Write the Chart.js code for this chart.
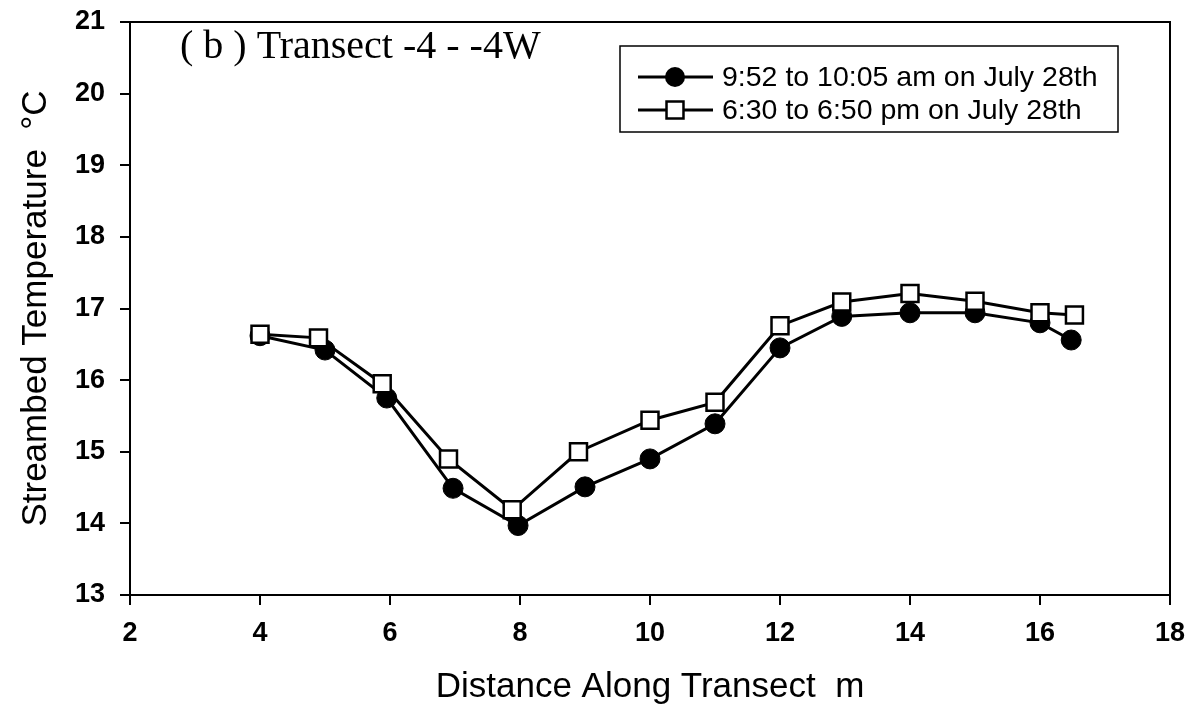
<!DOCTYPE html>
<html>
<head>
<meta charset="utf-8">
<title>Transect -4 - -4W</title>
<script src="https://cdn.jsdelivr.net/npm/chart.js@4.4.1/dist/chart.umd.min.js"></script>
<style>
    html, body { margin: 0; padding: 0; background: #fff; }
</style>
</head>
<body>
<canvas id="chart" width="1192" height="705"></canvas>
<script>
// values
var morningDistance = [4, 5, 5.95, 6.97, 7.97, 9, 10, 11, 12, 12.95, 14, 15, 16, 16.48];
var morningTemp = [16.62, 16.42, 15.75, 14.49, 13.97, 14.51, 14.9, 15.39, 16.45, 16.89, 16.94, 16.94, 16.8, 16.56];
var eveningDistance = [4, 4.9, 5.88, 6.9, 7.88, 8.9, 10, 11, 12, 12.95, 14, 15, 16, 16.53];
var eveningTemp = [16.64, 16.59, 15.95, 14.9, 14.19, 15.0, 15.44, 15.69, 16.76, 17.09, 17.21, 17.1, 16.94, 16.91];
var seriesLabels = ['9:52 to 10:05 am on July 28th', '6:30 to 6:50 pm on July 28th'];
var panelTitle = '( b ) Transect -4 - -4W';
var xTitle = 'Distance Along Transect  m';
var yTitle = 'Streambed Temperature  \u00B0C';

function toPoints(xs, ys) {
    var pts = [];
    for (var i = 0; i < xs.length; i++) {
        pts.push({x: xs[i], y: ys[i]});
    }
    return pts;
}

var sans = '"Liberation Sans", Arial, sans-serif';
var serif = '"Liberation Serif", "Times New Roman", serif';

// frame on top and right, panel title, legend box
var decorations = {
    id: 'decorations',
    afterDraw: function (chart) {
        var ctx = chart.ctx;
        var area = chart.chartArea;
        ctx.save();
        ctx.strokeStyle = '#000';
        ctx.lineWidth = 2;
        ctx.beginPath();
        ctx.moveTo(area.left, area.top);
        ctx.lineTo(area.right, area.top);
        ctx.lineTo(area.right, area.bottom);
        ctx.stroke();

        ctx.fillStyle = '#000';
        ctx.font = '40px ' + serif;
        ctx.textBaseline = 'middle';
        ctx.fillText(panelTitle, 180, 47);

        // legend
        var box = {x: 620, y: 46, w: 498, h: 86};
        ctx.lineWidth = 1.5;
        ctx.strokeRect(box.x, box.y, box.w, box.h);
        ctx.font = '28.5px ' + sans;
        var rows = [77, 110];
        chart.data.datasets.forEach(function (ds) {
            var y = rows[ds.legendRow];
            ctx.lineWidth = 3;
            ctx.strokeStyle = '#000';
            ctx.beginPath();
            ctx.moveTo(638, y);
            ctx.lineTo(713, y);
            ctx.stroke();
            if (ds.pointStyle === 'rect') {
                ctx.fillStyle = '#fff';
                ctx.lineWidth = ds.pointBorderWidth;
                ctx.beginPath();
                var s = ds.pointRadius * Math.SQRT1_2;
                ctx.rect(675 - s, y - s, 2 * s, 2 * s);
                ctx.fill();
                ctx.stroke();
            } else {
                ctx.fillStyle = '#000';
                ctx.beginPath();
                ctx.arc(675, y, ds.pointRadius, 0, Math.PI * 2);
                ctx.fill();
            }
            ctx.fillStyle = '#000';
            ctx.fillText(ds.label, 722, y + 1);
        });
        ctx.restore();
    }
};

new Chart(document.getElementById('chart').getContext('2d'), {
    type: 'line',
    data: {
        datasets: [
            {
                label: seriesLabels[0],
                legendRow: 0,
                data: toPoints(morningDistance, morningTemp),
                borderColor: '#000',
                borderWidth: 3,
                pointStyle: 'circle',
                pointRadius: 10,
                pointBackgroundColor: '#000',
                pointBorderColor: '#000',
                pointBorderWidth: 1,
                order: 2
            },
            {
                label: seriesLabels[1],
                legendRow: 1,
                data: toPoints(eveningDistance, eveningTemp),
                borderColor: '#000',
                borderWidth: 3,
                pointStyle: 'rect',
                pointRadius: 12,
                pointBackgroundColor: '#fff',
                pointBorderColor: '#000',
                pointBorderWidth: 2.5,
                order: 1
            }
        ]
    },
    options: {
        responsive: false,
        animation: false,
        layout: {
            padding: {top: 22, right: 22, left: 0, bottom: 0}
        },
        plugins: {
            legend: {display: false},
            tooltip: {enabled: false}
        },
        elements: {
            line: {tension: 0}
        },
        scales: {
            x: {
                type: 'linear',
                min: 2,
                max: 18,
                afterFit: function (scale) {
                    scale.height = 110;
                    scale.paddingLeft = 0;
                    scale.paddingRight = 0;
                },
                ticks: {
                    stepSize: 2,
                    color: '#000',
                    padding: 12,
                    font: {family: sans, size: 27, weight: 'bold'}
                },
                grid: {
                    drawOnChartArea: false,
                    drawTicks: true,
                    tickLength: 10,
                    color: '#000',
                    lineWidth: 2
                },
                border: {display: true, color: '#000', width: 2},
                title: {
                    display: true,
                    text: xTitle,
                    color: '#000',
                    padding: {top: 0, bottom: 0},
                    font: {family: sans, size: 35, lineHeight: 1}
                }
            },
            y: {
                min: 13,
                max: 21,
                afterFit: function (scale) {
                    scale.width = 130;
                    scale.paddingTop = 0;
                    scale.paddingBottom = 0;
                },
                ticks: {
                    stepSize: 1,
                    color: '#000',
                    padding: 15,
                    font: {family: sans, size: 27, weight: 'bold'}
                },
                grid: {
                    drawOnChartArea: false,
                    drawTicks: true,
                    tickLength: 10,
                    color: '#000',
                    lineWidth: 2
                },
                border: {display: true, color: '#000', width: 2},
                title: {
                    display: true,
                    text: yTitle,
                    color: '#000',
                    padding: {top: 19, bottom: 0},
                    font: {family: sans, size: 35, lineHeight: 1}
                }
            }
        }
    },
    plugins: [decorations]
});
</script>
</body>
</html>
